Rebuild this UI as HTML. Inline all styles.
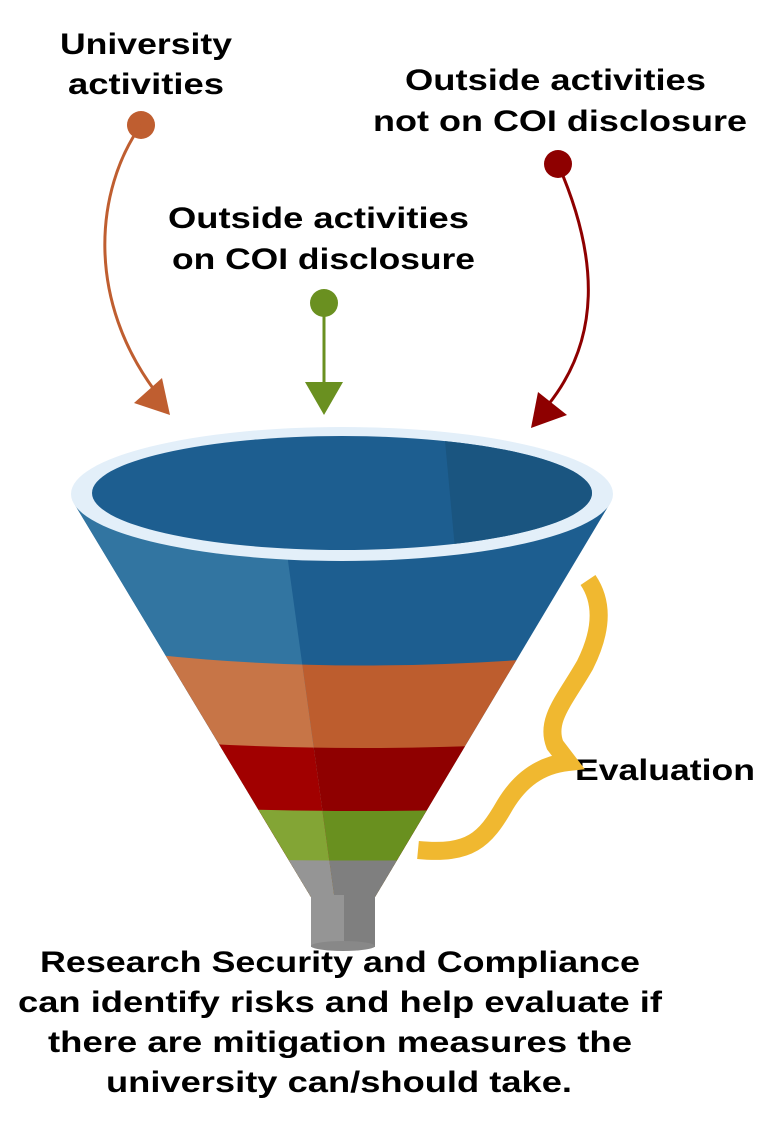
<!DOCTYPE html>
<html><head><meta charset="utf-8"><style>
html,body{margin:0;padding:0;background:#fff;}
svg{display:block}
text{font-family:"Liberation Sans",sans-serif;font-weight:bold;fill:#000;}
</style></head><body>
<svg width="768" height="1132" viewBox="0 0 768 1132" xmlns="http://www.w3.org/2000/svg">
<!-- labels -->
<g font-size="30" lengthAdjust="spacingAndGlyphs">
<text x="60" y="54" textLength="172" lengthAdjust="spacingAndGlyphs">University</text>
<text x="68" y="94" textLength="156" lengthAdjust="spacingAndGlyphs">activities</text>
<text x="405" y="90" textLength="301" lengthAdjust="spacingAndGlyphs">Outside activities</text>
<text x="373" y="131" textLength="374" lengthAdjust="spacingAndGlyphs">not on COI disclosure</text>
<text x="168" y="228" textLength="301" lengthAdjust="spacingAndGlyphs">Outside activities</text>
<text x="172" y="269" textLength="303" lengthAdjust="spacingAndGlyphs">on COI disclosure</text>
<text x="575" y="780" textLength="180" lengthAdjust="spacingAndGlyphs">Evaluation</text>
<text x="40" y="972" textLength="600" lengthAdjust="spacingAndGlyphs">Research Security and Compliance</text>
<text x="18" y="1012" textLength="644" lengthAdjust="spacingAndGlyphs">can identify risks and help evaluate if</text>
<text x="48" y="1052" textLength="584" lengthAdjust="spacingAndGlyphs">there are mitigation measures the</text>
<text x="106" y="1092" textLength="466" lengthAdjust="spacingAndGlyphs">university can/should take.</text>
</g>
<!-- arrows -->
<circle cx="141" cy="125" r="14" fill="#BF5E30"/>
<path d="M141,125 C95,190 85,300 158,395" fill="none" stroke="#BF5E30" stroke-width="3"/>
<polygon points="134,403 162,378 170,415" fill="#BF5E30"/>
<circle cx="324" cy="303" r="14" fill="#6A9020"/>
<line x1="324" y1="303" x2="324" y2="385" stroke="#6A9020" stroke-width="3"/>
<polygon points="305,382 343,382 324,415" fill="#6A9020"/>
<circle cx="558" cy="164" r="14" fill="#8E0000"/>
<path d="M558,164 C600,260 600,340 548,405" fill="none" stroke="#8E0000" stroke-width="3"/>
<polygon points="538,392 567,415 531,428" fill="#8E0000"/>
<!-- funnel -->
<defs>
<clipPath id="cone"><path d="M75,505 L311,897 L375,897 L609,505 Z"/></clipPath>
<clipPath id="lft"><path d="M0,0 L300,0 L288,561 L343,960 L0,960 Z"/></clipPath>
<clipPath id="inn"><ellipse cx="342" cy="493" rx="250" ry="57"/></clipPath>
</defs>
<g clip-path="url(#cone)">
<rect x="0" y="480" width="768" height="500" fill="#1D5E90"/>
<path d="M0,631 Q342,700 768,631 L768,980 L0,980 Z" fill="#BD5D2E"/>
<path d="M0,724 Q342,772 768,724 L768,980 L0,980 Z" fill="#8F0000"/>
<path d="M0,794 Q342,828 768,794 L768,980 L0,980 Z" fill="#69901F"/>
<path d="M0,851 Q342,870 768,851 L768,980 L0,980 Z" fill="#7F7F7F"/>
<g clip-path="url(#lft)">
<rect x="0" y="480" width="768" height="500" fill="#3275A1"/>
<path d="M0,631 Q342,700 768,631 L768,980 L0,980 Z" fill="#C77547"/>
<path d="M0,724 Q342,772 768,724 L768,980 L0,980 Z" fill="#A10000"/>
<path d="M0,794 Q342,828 768,794 L768,980 L0,980 Z" fill="#83A535"/>
<path d="M0,851 Q342,870 768,851 L768,980 L0,980 Z" fill="#959595"/>
</g>
</g>
<rect x="311" y="895" width="33" height="52" fill="#959595"/>
<rect x="344" y="895" width="31" height="52" fill="#7F7F7F"/>
<ellipse cx="343" cy="946" rx="32" ry="5" fill="#888"/>
<ellipse cx="342" cy="494" rx="271" ry="67" fill="#E3EFF9"/>
<ellipse cx="342" cy="493" rx="250" ry="57" fill="#1D5E90"/>
<path d="M444,430 L620,430 L620,560 L456,560 Z" fill="#1A5580" clip-path="url(#inn)"/>
<!-- brace -->
<path d="M588,580 C605,605 600,635 585,665 C565,700 545,720 555,745 L568,762 C540,765 520,780 505,805 C485,840 470,855 418,850" fill="none" stroke="#F0B830" stroke-width="18" stroke-linejoin="miter"/>
</svg>
</body></html>
